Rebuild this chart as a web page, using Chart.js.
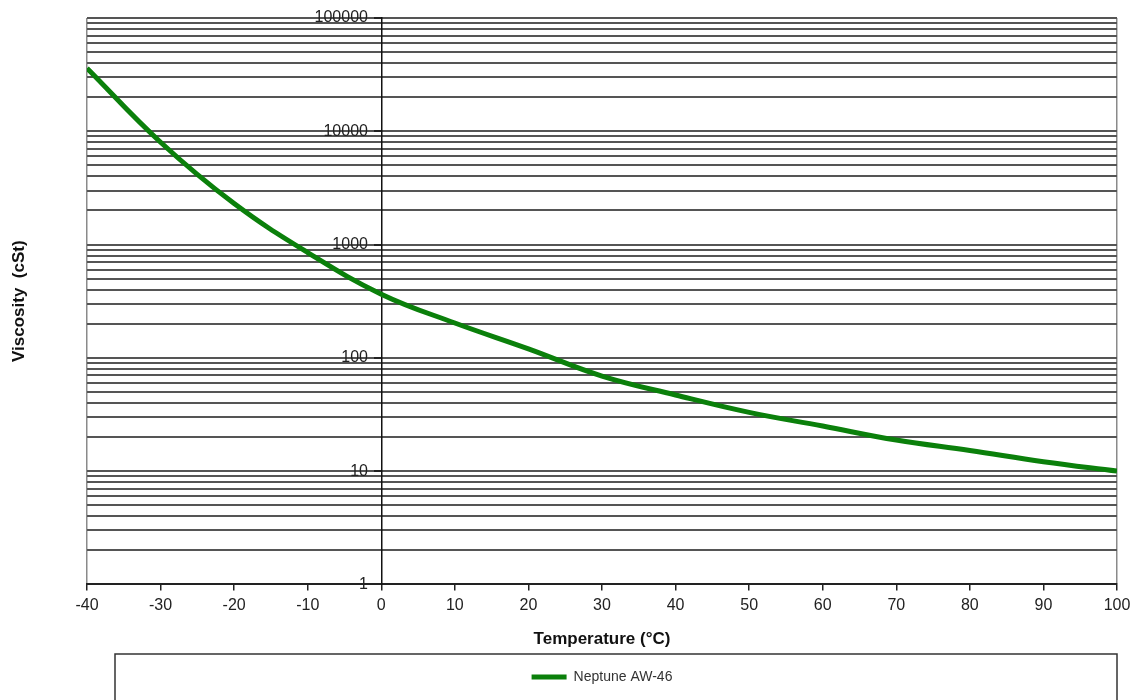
<!DOCTYPE html>
<html>
<head>
<meta charset="utf-8">
<script src="https://cdn.jsdelivr.net/npm/chart.js@4"></script>
<style>
  html, body { margin: 0; padding: 0; background: #fff; }
  #wrap { width: 1138px; height: 700px; }
</style>
</head>
<body>
<div id="wrap"><canvas id="myChart"></canvas></div>
<script>
// temperatures (°C) and viscosity (cSt)
const temps = [-40, -30, -20, -10, 0, 10, 20, 30, 40, 50, 60, 70, 80, 90, 100];
const visc = [36000, 8000, 2300, 850, 365, 203, 120, 69, 47, 33, 25, 18.8, 15.2, 12.1, 10];
const yMajor = [1, 10, 100, 1000, 10000, 100000];
const seriesName = 'Neptune AW-46';

// every 1..9 step of each decade gets a grid line
const yTicks = [];
yMajor.forEach((m, i) => {
  if (i === yMajor.length - 1) { yTicks.push(m); return; }
  for (let k = 1; k < 10; k++) yTicks.push(m * k);
});

const legendBox = {
  id: 'legendBox',
  afterDraw(chart) {
    const { ctx, chartArea, legend } = chart;
    ctx.save();
    ctx.strokeStyle = '#333';
    ctx.lineWidth = 1.5;
    ctx.strokeRect(chartArea.left + 28, legend.top - 6, chartArea.right - chartArea.left - 28, 80);
    ctx.restore();
  }
};

function addGraph() {
  const ctx = document.getElementById('myChart');

  new Chart(ctx, {
    type: 'line',
    data: {
      datasets: [{
        label: seriesName,
        data: temps.map((t, i) => ({ x: t, y: visc[i] })),
        borderColor: '#0b800b',
        backgroundColor: '#0b800b',
        borderWidth: 5,
        pointRadius: 0,
        tension: 0.4,
        yAxisID: 'y',
      }]
    },
    options: {
      responsive: true,
      maintainAspectRatio: false,
      animation: false,
      layout: { padding: { left: 0, right: 21, top: 18, bottom: 6 } },
      plugins: {
        legend: {
          position: 'bottom',
          fullSize: false,
          labels: {
            usePointStyle: true,
            pointStyle: 'line',
            pointStyleWidth: 35,
            boxHeight: 5,
            color: '#333',
            font: { family: 'Liberation Sans', size: 14 },
            padding: 10,
          }
        },
        tooltip: { enabled: false },
      },
      scales: {
        x: {
          type: 'linear',
          min: -40,
          max: 100,
          ticks: {
            stepSize: 10,
            color: '#222',
            padding: 6,
            font: { family: 'Liberation Sans', size: 16 },
          },
          grid: {
            color: (c) => (c.tick && (c.tick.value === -40 || c.tick.value === 100)) ? '#8a8a8a' : 'rgba(0,0,0,0)',
            lineWidth: 1.5,
            tickColor: '#222',
            tickLength: 6,
          },
          border: { color: '#222', width: 2 },
          title: {
            display: true,
            text: 'Temperature (°C)',
            color: '#111',
            font: { family: 'Liberation Sans', size: 17, weight: 'bold' },
            padding: { top: 8, bottom: 10 },
          }
        },
        y: {
          type: 'logarithmic',
          position: { x: 0 },
          min: 1,
          max: 100000,
          afterBuildTicks: (s) => { s.ticks = yTicks.map(v => ({ value: v })); },
          ticks: {
            autoSkip: false,
            color: '#222',
            font: { family: 'Liberation Sans', size: 16 },
            // labels sit right-aligned on the axis line, so pad them with spaces
            callback: (v) => yMajor.includes(v) ? String(v) + '   ' : '',
          },
          grid: {
            color: '#555',
            lineWidth: 2,
            tickLength: 7,
            tickColor: (c) => (c.tick && yMajor.includes(c.tick.value)) ? '#222' : 'rgba(0,0,0,0)',
          },
          border: { color: '#111', width: 1.5 },
        },
        yt: {
          type: 'linear',
          position: 'left',
          display: true,
          ticks: { display: false },
          grid: { display: false, drawTicks: false },
          border: { display: false },
          title: {
            display: true,
            text: 'Viscosity  (cSt)',
            color: '#111',
            font: { family: 'Liberation Sans', size: 17, weight: 'bold' },
            padding: { top: 9, bottom: 4 },
          },
          afterFit: (s) => { s.width = 87; },
        }
      }
    },
    plugins: [legendBox]
  });
}

addGraph();
</script>
</body>
</html>
